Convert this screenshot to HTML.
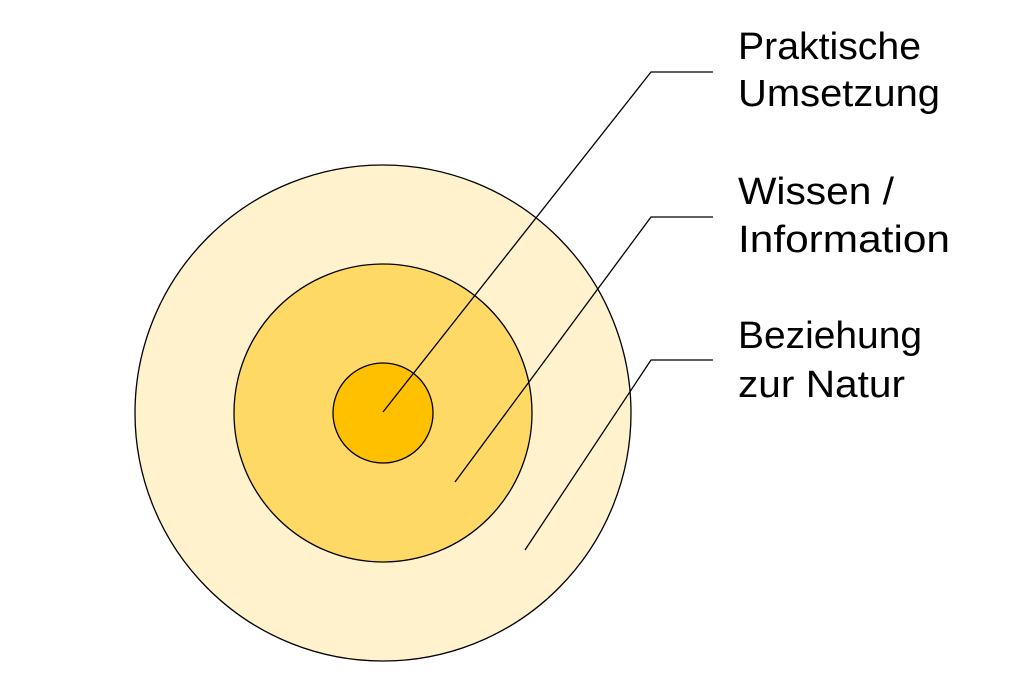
<!DOCTYPE html>
<html><head><meta charset="utf-8"><style>
html,body{margin:0;padding:0;background:#fff;width:1024px;height:684px;overflow:hidden}
</style></head><body>
<svg width="1024" height="684" viewBox="0 0 1024 684" xmlns="http://www.w3.org/2000/svg">
<circle cx="383" cy="413" r="248" fill="#FFF2CC" stroke="#000" stroke-width="1.3"/>
<circle cx="383" cy="413" r="149" fill="#FFD966" stroke="#000" stroke-width="1.3"/>
<circle cx="383" cy="413" r="50" fill="#FFC000" stroke="#000" stroke-width="1.3"/>
<g fill="none" stroke="#000" stroke-width="1.3">
<polyline points="383,412 651,72 713,72"/>
<polyline points="455,482 651,217 713,217"/>
<polyline points="525,550 651,360 713,360"/>
</g>
<g font-family="Liberation Sans, sans-serif" font-size="38" fill="#000">
<text x="738" y="59" textLength="183" lengthAdjust="spacingAndGlyphs">Praktische</text>
<text x="738" y="106" textLength="202" lengthAdjust="spacingAndGlyphs">Umsetzung</text>
<text x="738" y="204" textLength="156" lengthAdjust="spacingAndGlyphs">Wissen /</text>
<text x="738" y="252" textLength="212" lengthAdjust="spacingAndGlyphs">Information</text>
<text x="738" y="348" textLength="184" lengthAdjust="spacingAndGlyphs">Beziehung</text>
<text x="738" y="397" textLength="167" lengthAdjust="spacingAndGlyphs">zur Natur</text>
</g>
</svg>
</body></html>
